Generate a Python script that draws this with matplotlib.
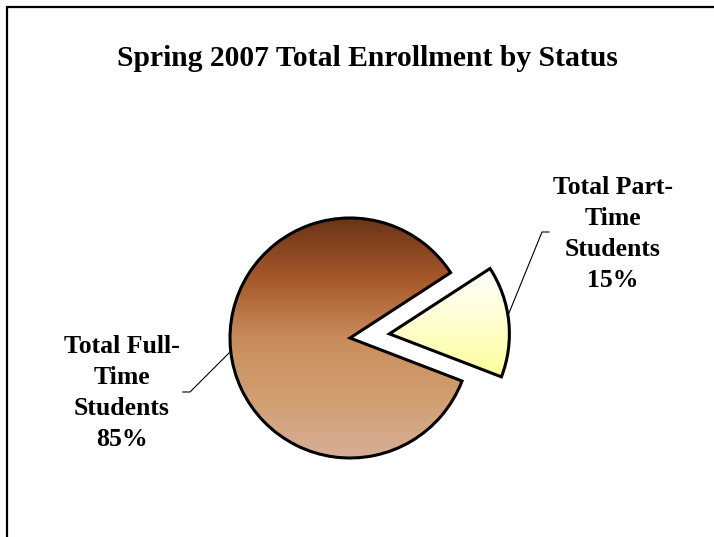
import numpy as np
import matplotlib.pyplot as plt
from matplotlib.colors import LinearSegmentedColormap
from matplotlib.patches import Rectangle

plt.rcParams['font.family'] = ['Liberation Serif', 'DejaVu Serif']

title = "Spring 2007 Total Enrollment by Status"
labels = ["Total Full-\nTime\nStudents", "Total Part-\nTime\nStudents"]
shares = [85, 15]
explode_frac = [0, 0.33]

full_cmap = LinearSegmentedColormap.from_list(
    "full", ["#6a3416", "#a6582a", "#c98c5c", "#d19f70", "#d6ae98"])
part_cmap = LinearSegmentedColormap.from_list(
    "part", ["#ffffff", "#fefed0", "#ffff99"])

W, H = 714, 537
R = 120
fig = plt.figure(figsize=(W / 100, H / 100), dpi=100)
ax = fig.add_axes([0, 0, 1, 1])
ax.axis("off")

# outer frame, cut off on the right and bottom like the source
fig.patches.append(Rectangle((7 / W, -0.1), 1.2, (H - 7) / H + 0.1,
                             transform=fig.transFigure, fill=False,
                             edgecolor="black", lw=1.6))

wedges, _ = ax.pie(shares, explode=[e * R for e in explode_frac],
                   center=(350, 199), radius=R,
                   startangle=33, counterclock=True,
                   wedgeprops=dict(edgecolor="black", linewidth=2.2, facecolor="none"))
ax.set_xlim(0, W)
ax.set_ylim(0, H)
ax.set_aspect("equal")

grad = np.linspace(0, 1, 256).reshape(-1, 1)
for w, cmap in zip(wedges, [full_cmap, part_cmap]):
    if w.theta2 - w.theta1 > 180:
        x0, x1 = w.center[0] - w.r, w.center[0] + w.r
        y0, y1 = w.center[1] - w.r, w.center[1] + w.r
    else:
        ang = np.radians(np.linspace(w.theta1, w.theta2, 50))
        ys = np.concatenate([[w.center[1]], w.center[1] + w.r * np.sin(ang)])
        xs = np.concatenate([[w.center[0]], w.center[0] + w.r * np.cos(ang)])
        x0, x1, y0, y1 = xs.min(), xs.max(), ys.min(), ys.max()
    im = ax.imshow(grad, cmap=cmap, aspect="auto", extent=(x0, x1, y0, y1),
                   origin="upper", zorder=0.5)
    im.set_clip_path(w)
ax.set_xlim(0, W)
ax.set_ylim(0, H)

# leader lines
ax.plot([183, 190, 229], [145, 145, 184], color="black", lw=0.8)
ax.plot([549, 542, 509], [305, 305, 224], color="black", lw=0.8)

txt = dict(ha="center", va="center", fontsize=18.5, fontweight="bold", linespacing=1.45)
ax.text(122, 144, f"{labels[0]}\n{shares[0]}%", **txt)
ax.text(613, 303, f"{labels[1]}\n{shares[1]}%", **txt)

ax.text(367, 479, title, ha="center", va="center", fontsize=21.3, fontweight="bold")

fig.savefig("out.png", dpi=100)
